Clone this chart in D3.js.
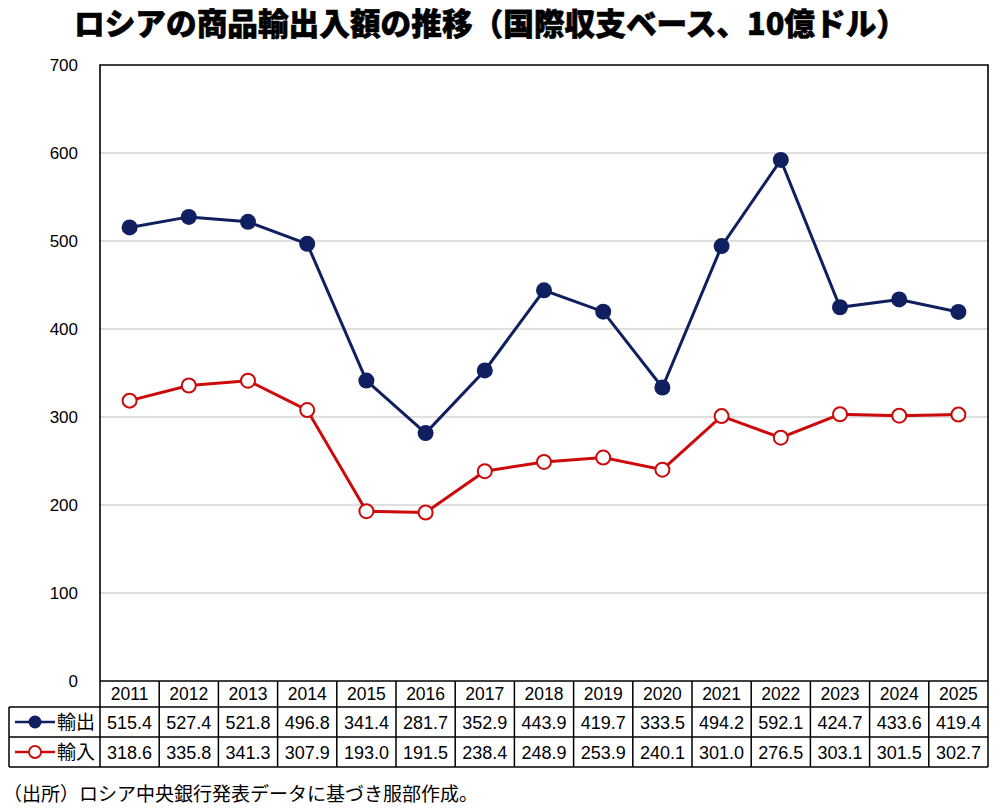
<!DOCTYPE html>
<html>
<head>
<meta charset="utf-8">
<script src="https://cdn.jsdelivr.net/npm/d3@7"></script>
<style>
  body { margin: 0; background: #fff; }
  svg { display: block; }
</style>
</head>
<body>
<script>
// data
var years = ['2011','2012','2013','2014','2015','2016','2017','2018','2019','2020','2021','2022','2023','2024','2025'];
var exportsVal = [515.4, 527.4, 521.8, 496.8, 341.4, 281.7, 352.9, 443.9, 419.7, 333.5, 494.2, 592.1, 424.7, 433.6, 419.4];
var importsVal = [318.6, 335.8, 341.3, 307.9, 193.0, 191.5, 238.4, 248.9, 253.9, 240.1, 301.0, 276.5, 303.1, 301.5, 302.7];
var yTicks = [0, 100, 200, 300, 400, 500, 600, 700];

var W = 1000, H = 809;
var pLeft = 100, pRight = 988, pTop = 65, pBottom = 681;
var navy = '#0f1f5f', red = '#cc0a0a';
var font = "'Liberation Sans', Arial, sans-serif";
var jp = "'Noto Sans CJK JP', sans-serif";

var svg = d3.select('body').append('svg').attr('width', W).attr('height', H);

// title
svg.append('text')
  .attr('x', 74).attr('y', 35)
  .attr('textLength', 833).attr('lengthAdjust', 'spacingAndGlyphs')
  .style('font-family', jp).style('font-weight', 900).style('font-size', '31px')
  .style('fill', '#000').style('stroke', '#000').style('stroke-width', 0.6)
  .text('ロシアの商品輸出入額の推移（国際収支ベース、10億ドル）');

var x = d3.scaleBand().domain(years).range([pLeft, pRight]);
var y = d3.scaleLinear().domain([0, 700]).range([pBottom, pTop]);

// gridlines
svg.append('g').selectAll('line').data(yTicks.slice(1, -1)).enter().append('line')
  .attr('x1', pLeft).attr('x2', pRight)
  .attr('y1', function(d) { return y(d); }).attr('y2', function(d) { return y(d); })
  .style('stroke', '#d4d4d4').style('stroke-width', 1.3);

// y axis labels
var yAxis = d3.axisLeft(y).tickValues(yTicks).tickSize(0).tickPadding(22);
var ya = svg.append('g').attr('transform', 'translate(' + pLeft + ',0)').call(yAxis);
ya.select('.domain').remove();
ya.selectAll('text').style('font-family', font).style('font-size', '17px').style('fill', '#000');

// plot border
svg.append('path')
  .attr('d', 'M' + pLeft + ',' + pBottom + 'V' + pTop + 'H' + pRight + 'V' + pBottom)
  .style('fill', 'none').style('stroke', '#000').style('stroke-width', 1.6);

function cx(d, i) { return x(years[i]) + x.bandwidth() / 2; }

var line = d3.line().x(function(d, i) { return cx(d, i); }).y(function(d) { return y(d); });

svg.append('path').datum(importsVal).attr('d', line)
  .style('fill', 'none').style('stroke', red).style('stroke-width', 3);
svg.append('g').selectAll('circle').data(importsVal).enter().append('circle')
  .attr('cx', cx).attr('cy', function(d) { return y(d); }).attr('r', 7)
  .style('fill', '#fff').style('stroke', red).style('stroke-width', 2);

svg.append('path').datum(exportsVal).attr('d', line)
  .style('fill', 'none').style('stroke', navy).style('stroke-width', 3);
svg.append('g').selectAll('circle').data(exportsVal).enter().append('circle')
  .attr('cx', cx).attr('cy', function(d) { return y(d); }).attr('r', 8)
  .style('fill', navy);

// data table
var rowTop = [681, 707, 737], rowBot = [707, 737, 767];
var labelLeft = 9;
var tbl = svg.append('g');

// year row cells
tbl.selectAll('.yr').data(years).enter().append('text')
  .attr('x', function(d) { return x(d) + x.bandwidth() / 2; })
  .attr('y', (rowTop[0] + rowBot[0]) / 2 + 6)
  .attr('text-anchor', 'middle')
  .style('font-family', font).style('font-size', '17.5px')
  .text(function(d) { return d; });

var rows = [
  { name: '輸出', vals: exportsVal, color: navy, open: false },
  { name: '輸入', vals: importsVal, color: red, open: true }
];

rows.forEach(function(r, k) {
  var mid = (rowTop[k + 1] + rowBot[k + 1]) / 2;
  tbl.selectAll('.v' + k).data(r.vals).enter().append('text')
    .attr('x', function(d, i) { return cx(d, i); })
    .attr('y', mid + 6.5)
    .attr('text-anchor', 'middle')
    .style('font-family', font).style('font-size', '18px')
    .text(function(d) { return d.toFixed(1); });
  // legend key
  tbl.append('line').attr('x1', 15).attr('x2', 55).attr('y1', mid).attr('y2', mid)
    .style('stroke', r.color).style('stroke-width', 2.5);
  tbl.append('circle').attr('cx', 35).attr('cy', mid).attr('r', r.open ? 6 : 6.5)
    .style('fill', r.open ? '#fff' : r.color).style('stroke', r.color).style('stroke-width', r.open ? 1.8 : 0);
  tbl.append('text').attr('x', 57).attr('y', mid + 7)
    .style('font-family', jp).style('font-size', '19px')
    .text(r.name);
});

// grid lines of the table
var colEdges = [pLeft].concat(years.map(function(d) { return x(d) + x.bandwidth(); }));
tbl.selectAll('.vl').data(colEdges).enter().append('line')
  .attr('x1', function(d) { return d; }).attr('x2', function(d) { return d; })
  .attr('y1', rowTop[0]).attr('y2', rowBot[2])
  .style('stroke', '#000').style('stroke-width', 1.5);
tbl.append('line').attr('x1', labelLeft).attr('x2', labelLeft).attr('y1', rowTop[1]).attr('y2', rowBot[2])
  .style('stroke', '#000').style('stroke-width', 1.5);
tbl.append('line').attr('x1', pLeft).attr('x2', pRight).attr('y1', rowTop[0]).attr('y2', rowTop[0])
  .style('stroke', '#000').style('stroke-width', 1.5);
[rowTop[1], rowTop[2], rowBot[2]].forEach(function(yy) {
  tbl.append('line').attr('x1', labelLeft).attr('x2', pRight).attr('y1', yy).attr('y2', yy)
    .style('stroke', '#000').style('stroke-width', 1.5);
});

// source note
svg.append('text').attr('x', 3).attr('y', 801)
  .style('font-family', jp).style('font-size', '19px')
  .text('（出所）ロシア中央銀行発表データに基づき服部作成。');
</script>
</body>
</html>
